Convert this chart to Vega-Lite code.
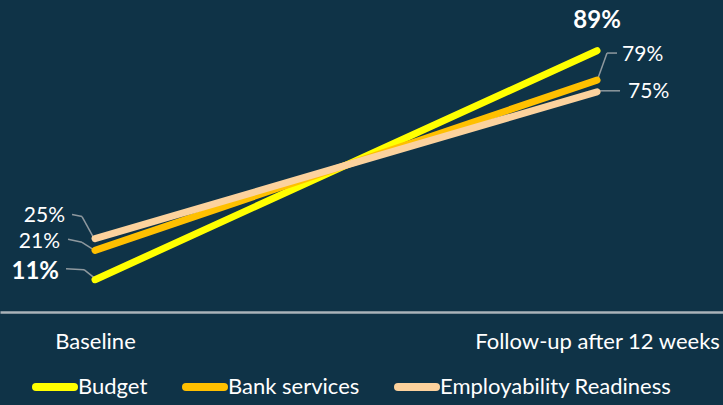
{
  "$schema": "https://vega.github.io/schema/vega-lite/v6.json",
  "width": 723,
  "height": 312,
  "autosize": {"type": "none"},
  "padding": {"left": 0, "top": 0, "right": 0, "bottom": 93},
  "background": "#0f3347",
  "config": {"view": {"stroke": null}, "font": "Lato"},
  "data": {
    "values": [
      {"series": "Budget", "stage": "Baseline", "value": 0.11},
      {"series": "Budget", "stage": "Follow-up after 12 weeks", "value": 0.89},
      {"series": "Bank services", "stage": "Baseline", "value": 0.21},
      {"series": "Bank services", "stage": "Follow-up after 12 weeks", "value": 0.79},
      {"series": "Employability Readiness", "stage": "Baseline", "value": 0.25},
      {"series": "Employability Readiness", "stage": "Follow-up after 12 weeks", "value": 0.75}
    ]
  },
  "encoding": {
    "x": {
      "field": "stage",
      "type": "nominal",
      "sort": ["Baseline", "Follow-up after 12 weeks"],
      "scale": {"type": "point", "padding": 0.2201, "align": 0.43},
      "axis": {
        "title": null,
        "domainColor": "#aab3b9",
        "domainWidth": 2.5,
        "ticks": false,
        "grid": false,
        "labelColor": "#ffffff",
        "labelFont": "Lato",
        "labelFontSize": 22,
        "labelPadding": 19,
        "labelAngle": 0,
        "labelLimit": 0,
        "labelOverlap": false
      }
    },
    "y": {
      "field": "value",
      "type": "quantitative",
      "scale": {"domain": [0, 1.0627], "nice": false},
      "axis": null
    }
  },
  "layer": [
    {"transform": [{"filter": "datum.series == 'Budget' && datum.stage == 'Baseline'"}],
     "mark": {"type": "rule", "stroke": "#8f999f", "strokeWidth": 1.5, "xOffset": -1, "yOffset": -2, "x2Offset": -11, "y2Offset": -10},
     "encoding": {"x2": {"field": "stage"}, "y2": {"field": "value"}}},
    {"transform": [{"filter": "datum.series == 'Budget' && datum.stage == 'Baseline'"}],
     "mark": {"type": "rule", "stroke": "#8f999f", "strokeWidth": 1.5, "xOffset": -11, "yOffset": -10, "x2Offset": -29, "y2Offset": -11},
     "encoding": {"x2": {"field": "stage"}, "y2": {"field": "value"}}},
    {"transform": [{"filter": "datum.series == 'Bank services' && datum.stage == 'Baseline'"}],
     "mark": {"type": "rule", "stroke": "#8f999f", "strokeWidth": 1.5, "xOffset": -2, "yOffset": -1, "x2Offset": -13, "y2Offset": -8},
     "encoding": {"x2": {"field": "stage"}, "y2": {"field": "value"}}},
    {"transform": [{"filter": "datum.series == 'Bank services' && datum.stage == 'Baseline'"}],
     "mark": {"type": "rule", "stroke": "#8f999f", "strokeWidth": 1.5, "xOffset": -13, "yOffset": -8, "x2Offset": -27, "y2Offset": -11},
     "encoding": {"x2": {"field": "stage"}, "y2": {"field": "value"}}},
    {"transform": [{"filter": "datum.series == 'Employability Readiness' && datum.stage == 'Baseline'"}],
     "mark": {"type": "rule", "stroke": "#8f999f", "strokeWidth": 1.5, "xOffset": -2, "yOffset": -2, "x2Offset": -13, "y2Offset": -22},
     "encoding": {"x2": {"field": "stage"}, "y2": {"field": "value"}}},
    {"transform": [{"filter": "datum.series == 'Employability Readiness' && datum.stage == 'Baseline'"}],
     "mark": {"type": "rule", "stroke": "#8f999f", "strokeWidth": 1.5, "xOffset": -13, "yOffset": -22, "x2Offset": -23, "y2Offset": -24},
     "encoding": {"x2": {"field": "stage"}, "y2": {"field": "value"}}},
    {"transform": [{"filter": "datum.series == 'Bank services' && datum.stage == 'Follow-up after 12 weeks'"}],
     "mark": {"type": "rule", "stroke": "#8f999f", "strokeWidth": 1.5, "xOffset": 1, "yOffset": -2, "x2Offset": 10, "y2Offset": -27},
     "encoding": {"x2": {"field": "stage"}, "y2": {"field": "value"}}},
    {"transform": [{"filter": "datum.series == 'Bank services' && datum.stage == 'Follow-up after 12 weeks'"}],
     "mark": {"type": "rule", "stroke": "#8f999f", "strokeWidth": 1.5, "xOffset": 10, "yOffset": -27, "x2Offset": 20, "y2Offset": -27},
     "encoding": {"x2": {"field": "stage"}, "y2": {"field": "value"}}},
    {"transform": [{"filter": "datum.series == 'Employability Readiness' && datum.stage == 'Follow-up after 12 weeks'"}],
     "mark": {"type": "rule", "stroke": "#8f999f", "strokeWidth": 1.5, "xOffset": 3, "yOffset": -1, "x2Offset": 23, "y2Offset": -1},
     "encoding": {"x2": {"field": "stage"}, "y2": {"field": "value"}}},
    {
      "mark": {"type": "line", "strokeWidth": 7, "strokeCap": "round"},
      "encoding": {
        "color": {
          "field": "series",
          "type": "nominal",
          "sort": ["Budget", "Bank services", "Employability Readiness"],
          "scale": {"domain": ["Budget", "Bank services", "Employability Readiness"], "range": ["#ffff00", "#ffc000", "#fcd29d"]},
          "legend": {
            "title": null,
            "orient": "none",
            "legendX": 32,
            "legendY": 364,
            "direction": "horizontal",
            "padding": 0,
            "symbolType": "stroke",
            "symbolSize": 1444,
            "symbolStrokeWidth": 8,
            "labelColor": "#ffffff",
            "labelFont": "Lato",
            "labelFontSize": 22,
            "labelOffset": 0,
            "labelLimit": 0,
            "columnPadding": 22,
            "encode": {"symbols": {"update": {"strokeCap": {"value": "round"}}}}
          }
        }
      }
    },
    {"transform": [{"filter": "datum.series == 'Budget' && datum.stage == 'Baseline'"}],
     "mark": {"type": "text", "align": "right", "baseline": "middle", "dx": -36, "dy": -8, "fontSize": 24, "fontWeight": "bold", "fill": "#ffffff"},
     "encoding": {"text": {"field": "value", "format": ".0%"}}},
    {"transform": [{"filter": "datum.series == 'Bank services' && datum.stage == 'Baseline'"}],
     "mark": {"type": "text", "align": "right", "baseline": "middle", "dx": -35, "dy": -8, "fontSize": 21, "fill": "#ffffff"},
     "encoding": {"text": {"field": "value", "format": ".0%"}}},
    {"transform": [{"filter": "datum.series == 'Employability Readiness' && datum.stage == 'Baseline'"}],
     "mark": {"type": "text", "align": "right", "baseline": "middle", "dx": -30, "dy": -23, "fontSize": 21, "fill": "#ffffff"},
     "encoding": {"text": {"field": "value", "format": ".0%"}}},
    {"transform": [{"filter": "datum.series == 'Budget' && datum.stage == 'Follow-up after 12 weeks'"}],
     "mark": {"type": "text", "align": "center", "baseline": "middle", "dx": 0, "dy": -30, "fontSize": 24, "fontWeight": "bold", "fill": "#ffffff"},
     "encoding": {"text": {"field": "value", "format": ".0%"}}},
    {"transform": [{"filter": "datum.series == 'Bank services' && datum.stage == 'Follow-up after 12 weeks'"}],
     "mark": {"type": "text", "align": "left", "baseline": "middle", "dx": 25, "dy": -25, "fontSize": 21, "fill": "#ffffff"},
     "encoding": {"text": {"field": "value", "format": ".0%"}}},
    {"transform": [{"filter": "datum.series == 'Employability Readiness' && datum.stage == 'Follow-up after 12 weeks'"}],
     "mark": {"type": "text", "align": "left", "baseline": "middle", "dx": 31, "dy": 0, "fontSize": 21, "fill": "#ffffff"},
     "encoding": {"text": {"field": "value", "format": ".0%"}}}
  ]
}
